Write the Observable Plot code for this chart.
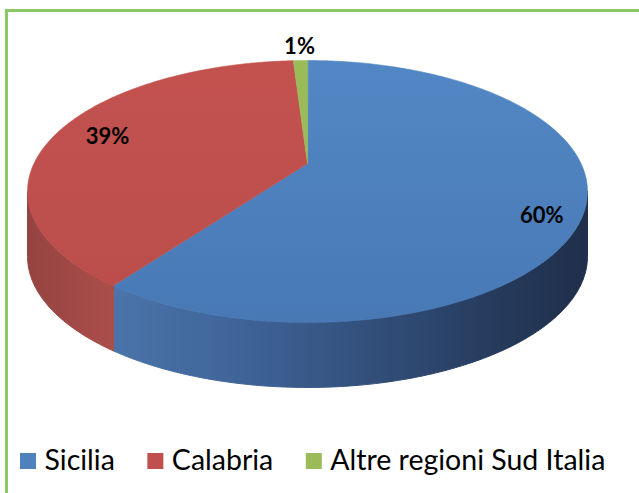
<!DOCTYPE html>
<html><head><meta charset="utf-8">
<script src="https://cdn.jsdelivr.net/npm/d3@7"></script>
<script src="https://cdn.jsdelivr.net/npm/@observablehq/plot@0.6"></script>
<style>
html,body{margin:0;padding:0;background:#fff;overflow:hidden;width:639px;height:493px}
#chart{position:absolute;left:0;top:0}
#frame{position:absolute;left:5px;top:9px;width:700px;height:600px;border-left:3px solid #8dc665;border-top:3px solid #8dc665;z-index:2;pointer-events:none}
</style></head><body>
<div id="chart"></div><div id="frame"></div>
<script>
// ---- data ----
const categories = ["Sicilia", "Calabria", "Altre regioni Sud Italia"];
const shares = [60, 39, 1];
const labels = ["60%", "39%", "1%"];

// ---- style ----
const topFill = ["url(#gTop0)", "url(#gTop1)", "#9bbb59"];
const sideFill = ["url(#gSide0)", "url(#gSide1)", "#7d9a45"];
const swatch = ["#4f81bd", "#c0504d", "#9bbb59"];
const W = 639, H = 493;
const CX = 307, CY = 163, A = 273.5, B = 125, K = 0.2137, DEPTH = 65;
const deg = Math.PI / 180;

function proj(r, th) {
  const u = r * Math.sin(th), v = r * Math.cos(th), w = 1 + K * v;
  return [CX + A * u / w, CY - B * v / w];
}

const total = d3.sum(shares);
let acc = 0;
const slices = shares.map((s, i) => {
  const a0 = acc / total * 2 * Math.PI; acc += s;
  const a1 = acc / total * 2 * Math.PI;
  return {i, a0, a1};
});

const tops = [], sides = [];
const visA = Math.acos(-K), visB = 2 * Math.PI - Math.acos(-K);
for (const s of slices) {
  const n = Math.max(4, Math.ceil((s.a1 - s.a0) / (0.5 * deg)));
  const c = proj(0, 0);
  tops.push({i: s.i, x: c[0], y: c[1]});
  for (let k = 0; k <= n; k++) {
    const t = s.a0 + (s.a1 - s.a0) * k / n;
    const p = proj(1, t);
    tops.push({i: s.i, x: p[0], y: p[1]});
  }
  const b0 = Math.max(s.a0, visA), b1 = Math.min(s.a1, visB);
  if (b1 > b0) {
    const m = Math.max(4, Math.ceil((b1 - b0) / (0.5 * deg)));
    const up = [], dn = [];
    for (let k = 0; k <= m; k++) {
      const t = b0 + (b1 - b0) * k / m;
      const p = proj(1, t);
      up.push({i: s.i, x: p[0], y: p[1]});
      dn.push({i: s.i, x: p[0], y: p[1] + DEPTH});
    }
    sides.push(...up, ...dn.reverse());
  }
}

const labelPts = slices.map(s => {
  const mid = (s.a0 + s.a1) / 2;
  const frac = shares[s.i] / total;
  const r = frac < 0.05 ? 1.16 : 0.7 + 0.25 * frac;
  const p = proj(r, mid);
  const dy = frac < 0.05 ? 0 : DEPTH * 0.9 * Math.max(0, -Math.cos(mid));
  return {x: p[0], y: p[1] + dy, t: labels[s.i]};
});

// legend layout from measured text
const legendSize = 28.5;
const ctx = document.createElement("canvas").getContext("2d");
ctx.font = legendSize + "px Lato";
const legend = [];
let lx = 20;
categories.forEach((c, i) => {
  const w = ctx.measureText(c).width;
  legend.push({i, x1: lx, x2: lx + 16, y1: 453, y2: 469, tx: lx + 24, ty: 460, name: c});
  lx = lx + 24 + w + 33;
});

function defs() {
  const d = d3.create("svg:defs");
  const lg = (id, stops, vertical) => {
    const g = d.append("linearGradient").attr("id", id)
      .attr("x1", 0).attr("y1", 0).attr("x2", vertical ? 0 : 1).attr("y2", vertical ? 1 : 0);
    stops.forEach(([o, c]) => g.append("stop").attr("offset", o).attr("stop-color", c));
  };
  lg("gTop0", [[0, "#5287c5"], [1, "#4879b5"]], true);
  lg("gTop1", [[0, "#c3524f"], [1, "#bb4e4b"]], true);
  lg("gSide0", [[0, "#4a74aa"], [0.25, "#40659a"], [0.55, "#324f7a"], [0.8, "#263b5d"], [1, "#1f2f4b"]], false);
  lg("gSide1", [[0, "#944341"], [0.6, "#a24a47"], [1, "#ab4e4b"]], false);
  return d.node();
}

const marks = [defs];
slices.forEach(s => {
  const sd = sides.filter(d => d.i === s.i);
  if (sd.length) marks.push(Plot.line(sd, {x: "x", y: "y", curve: "linear-closed", fill: sideFill[s.i], stroke: sideFill[s.i], strokeWidth: 1}));
});
slices.forEach(s => {
  marks.push(Plot.line(tops.filter(d => d.i === s.i), {x: "x", y: "y", curve: "linear-closed", fill: topFill[s.i], stroke: topFill[s.i], strokeWidth: 0.6}));
});
marks.push(Plot.text(labelPts, {x: "x", y: "y", text: "t", fontSize: 22, fontWeight: "bold", fontFamily: "Lato", fill: "#000"}));
marks.push(Plot.rect(legend, {x1: "x1", x2: "x2", y1: "y1", y2: "y2", fill: d => swatch[d.i], inset: 0}));
marks.push(Plot.text(legend, {x: "tx", y: "ty", text: "name", textAnchor: "start", fontSize: legendSize, fontFamily: "Lato", fill: "#000"}));

const chart = Plot.plot({
  width: W, height: H,
  marginTop: 0, marginRight: 0, marginBottom: 0, marginLeft: 0,
  x: {type: "linear", domain: [0, W], range: [0, W], axis: null},
  y: {type: "linear", domain: [0, H], range: [0, H], axis: null},
  color: {type: "identity"},
  style: {background: "transparent", overflow: "visible"},
  marks
});
document.getElementById("chart").appendChild(chart);
</script>
</body></html>
